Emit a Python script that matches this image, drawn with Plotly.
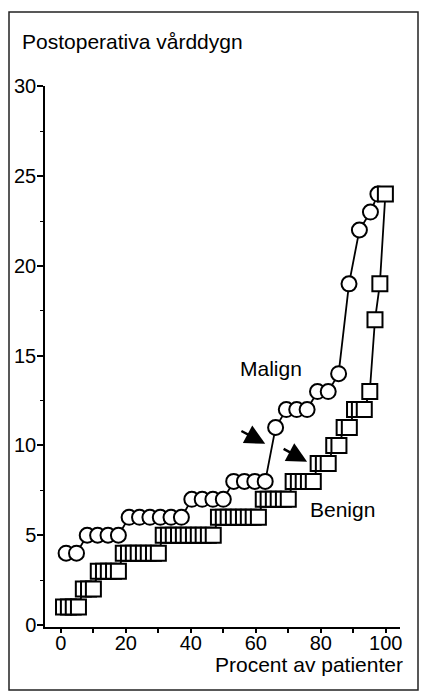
import plotly.graph_objects as go

# Postoperative days in hospital, patients sorted by length of stay
malign_x = [1.6, 4.8, 8.1, 11.3, 14.5, 17.7, 21.0, 24.2, 27.4, 30.6, 33.9, 37.1,
            40.3, 43.5, 46.8, 50.0, 53.2, 56.5, 59.7, 62.9, 66.1, 69.4, 72.6, 75.8,
            79.0, 82.3, 85.5, 88.7, 91.9, 95.3, 97.6]
malign_y = [4, 4, 5, 5, 5, 5, 6, 6, 6, 6, 6, 6,
            7, 7, 7, 7, 8, 8, 8, 8, 11, 12, 12, 12,
            13, 13, 14, 19, 22, 23, 24]

benign_x = [0.8, 2.3, 3.8, 5.4, 6.9, 8.5, 10.0, 11.5, 13.1, 14.6, 16.2, 17.7,
            19.2, 20.8, 22.3, 23.8, 25.4, 26.9, 28.5, 30.0, 31.5, 33.1, 34.6, 36.2,
            37.7, 39.2, 40.8, 42.3, 43.8, 45.4, 46.9, 48.5, 50.0, 51.5, 53.1, 54.6,
            56.2, 57.7, 59.2, 60.8, 62.3, 63.8, 65.4, 66.9, 68.5, 70.0, 71.5, 73.1,
            74.6, 76.2, 77.7, 79.2, 80.8, 82.3, 84.0, 85.6, 87.2, 88.8, 90.4, 91.9,
            93.4, 95.1, 96.7, 98.2, 99.9]
benign_y = [1, 1, 1, 1, 2, 2, 2, 3, 3, 3, 3, 3,
            4, 4, 4, 4, 4, 4, 4, 4, 5, 5, 5, 5,
            5, 5, 5, 5, 5, 5, 5, 6, 6, 6, 6, 6,
            6, 6, 6, 6, 7, 7, 7, 7, 7, 7, 8, 8,
            8, 8, 8, 9, 9, 9, 10, 10, 11, 11, 12, 12,
            12, 13, 17, 19, 24]

x_tickvals = [0, 10, 20, 30, 40, 50, 60, 70, 80, 90, 100]
x_ticktext = ["0", "", "20", "", "40", "", "60", "", "80", "", "100"]
y_tickvals = [0, 5, 10, 15, 20, 25, 30]
y_minor = [2.5, 7.5, 12.5, 17.5, 22.5, 27.5]

FONT = "Liberation Sans, Arial, Helvetica, sans-serif"
W, H = 427, 693
ML, MR, MT, MB = 45, 27, 86, 66
PW, PH = W - ML - MR, H - MT - MB


def px(x):
    return (x - ML) / PW


def py(y):
    return (H - MB - y) / PH


fig = go.Figure()

fig.add_trace(go.Scatter(
    x=malign_x, y=malign_y, mode="lines+markers", name="Malign",
    line=dict(color="black", width=1.8),
    marker=dict(symbol="circle", size=15, color="white",
                line=dict(color="black", width=2)),
    cliponaxis=False,
))
fig.add_trace(go.Scatter(
    x=benign_x, y=benign_y, mode="lines+markers", name="Benign",
    line=dict(color="black", width=1.8),
    marker=dict(symbol="square", size=15, color="white",
                line=dict(color="black", width=2)),
    cliponaxis=False,
))

annotations = [
    dict(text="Postoperativa vårddygn", xref="paper", yref="paper",
         x=px(20), y=py(41), xanchor="left", yanchor="middle",
         showarrow=False, font=dict(size=21, color="black", family=FONT)),
    dict(text="Procent av patienter", xref="paper", yref="paper",
         x=px(405), y=py(664), xanchor="right", yanchor="middle",
         showarrow=False, font=dict(size=21, color="black", family=FONT)),
    dict(text="Malign", x=64.7, y=14.3, xref="x", yref="y",
         showarrow=False, bgcolor="white",
         font=dict(size=21, color="black", family=FONT)),
    dict(text="Benign", x=86.6, y=6.45, xref="x", yref="y",
         showarrow=False, bgcolor="white",
         font=dict(size=21, color="black", family=FONT)),
    # arrows marking where the two curves turn upward
    dict(text="", x=62.9, y=10.1, ax=55.1, ay=10.85, xref="x", yref="y",
         axref="x", ayref="y", showarrow=True, arrowhead=2, arrowsize=1.6,
         arrowwidth=2.5, arrowcolor="black"),
    dict(text="", x=75.8, y=9.1, ax=68.1, ay=9.85, xref="x", yref="y",
         axref="x", ayref="y", showarrow=True, arrowhead=2, arrowsize=1.6,
         arrowwidth=2.5, arrowcolor="black"),
]

fig.update_layout(
    width=W, height=H,
    margin=dict(l=ML, r=MR, t=MT, b=MB),
    paper_bgcolor="white", plot_bgcolor="white",
    showlegend=False,
    font=dict(family=FONT, size=20, color="black"),
    annotations=annotations,
    shapes=[dict(type="rect", xref="paper", yref="paper",
                 x0=px(9), x1=px(418), y0=py(690), y1=py(12),
                 line=dict(color="#222", width=1.5))],
    xaxis=dict(range=[-4.9, 104.4], tickmode="array", tickvals=x_tickvals,
               ticktext=x_ticktext, ticks="outside", ticklen=4, tickwidth=1.5,
               tickcolor="black", showline=True, linecolor="black", linewidth=1.5,
               showgrid=False, zeroline=False, tickfont=dict(size=20),
               ticklabelstandoff=-7),
    yaxis=dict(range=[-0.11, 30.02], tickmode="array", tickvals=y_tickvals,
               ticks="outside", ticklen=6, tickwidth=1.5, tickcolor="black",
               showline=True, linecolor="black", linewidth=1.5,
               showgrid=False, zeroline=False, tickfont=dict(size=20),
               ticklabelstandoff=-3,
               minor=dict(tickmode="array", tickvals=y_minor, ticks="outside",
                          ticklen=3, tickwidth=1, tickcolor="black")),
)

fig.write_html("out.html")
